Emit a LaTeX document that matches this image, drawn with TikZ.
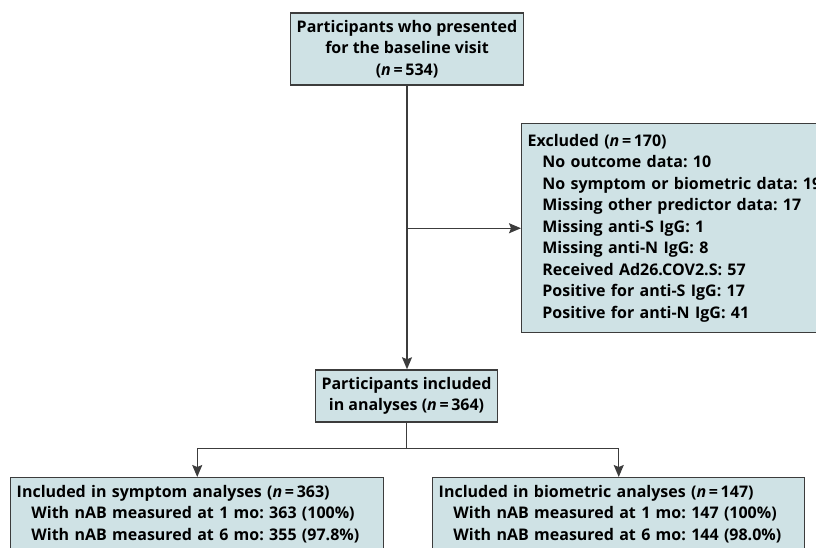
\documentclass[tikz,border=0pt]{standalone}
\usepackage{fontspec}
\setmainfont{Open Sans}
\usetikzlibrary{arrows.meta}

\definecolor{boxfill}{RGB}{207,226,229}
\definecolor{boxline}{RGB}{60,60,60}
\newcommand{\nis}{\textit{n}\,=\,}
\newcommand{\sub}{\hspace*{11pt}}
\frenchspacing

\tikzset{every picture/.style={line width=1.1pt}}
\tikzset{
	flowbox/.style={draw=boxline, fill=boxfill, inner xsep=4.5pt, inner ysep=3.5pt, font=\bfseries\fontsize{12}{16.1}\selectfont},
	flowarrow/.style={draw=boxline, -{Stealth[length=9pt,width=7.5pt,inset=1.5pt]}},
}

\begin{document}
\begin{tikzpicture}[x=0.75pt,y=0.75pt,yscale=-1,xscale=1]

		\useasboundingbox (0,0) rectangle (816,547);
		\clip (0,0) rectangle (816,547);

		\node [flowbox, minimum width=172.5pt, minimum height=54pt, align=center] (baseline) at (407,49) {Participants who presented\\for the baseline visit\\(\nis534)};

		\node [flowbox, anchor=north west, text width=240pt, minimum height=156.75pt, align=left] (excluded) at (521,123) {Excluded (\nis170)\\
			\sub No outcome data: 10\\
			\sub No symptom or biometric data: 19\\
			\sub Missing other predictor data: 17\\
			\sub Missing anti-S IgG: 1\\
			\sub Missing anti-N IgG: 8\\
			\sub Received Ad26.COV2.S: 57\\
			\sub Positive for anti-S IgG: 17\\
			\sub Positive for anti-N IgG: 41};

		\node [flowbox, minimum width=135.75pt, minimum height=39pt, align=center] (included) at (406.5,396) {Participants included\\in analyses (\nis364)};

		\node [flowbox, inner ysep=5.5pt, anchor=north west, text width=270.75pt, align=left] (symptom) at (10,477) {Included in symptom analyses (\nis363)\\
			\sub With nAB measured at 1 mo: 363 (100\%)\\
			\sub With nAB measured at 6 mo: 355 (97.8\%)};

		\node [flowbox, inner ysep=5.5pt, anchor=north west, text width=270pt, align=left] (biometric) at (432,477) {Included in biometric analyses (\nis147)\\
			\sub With nAB measured at 1 mo: 147 (100\%)\\
			\sub With nAB measured at 6 mo: 144 (98.0\%)};

		% connectors
		\draw [flowarrow] (baseline.south) -- (baseline.south |- included.north);
		\draw [flowarrow] (baseline.south |- excluded.west) -- (excluded.west);
		\draw [boxline] (included.south) -- ++(0,26) coordinate (fork);
		\draw [flowarrow] (fork) -| (symptom.north);
		\draw [flowarrow] (fork) -| (biometric.north);

	\end{tikzpicture}
\end{document}
